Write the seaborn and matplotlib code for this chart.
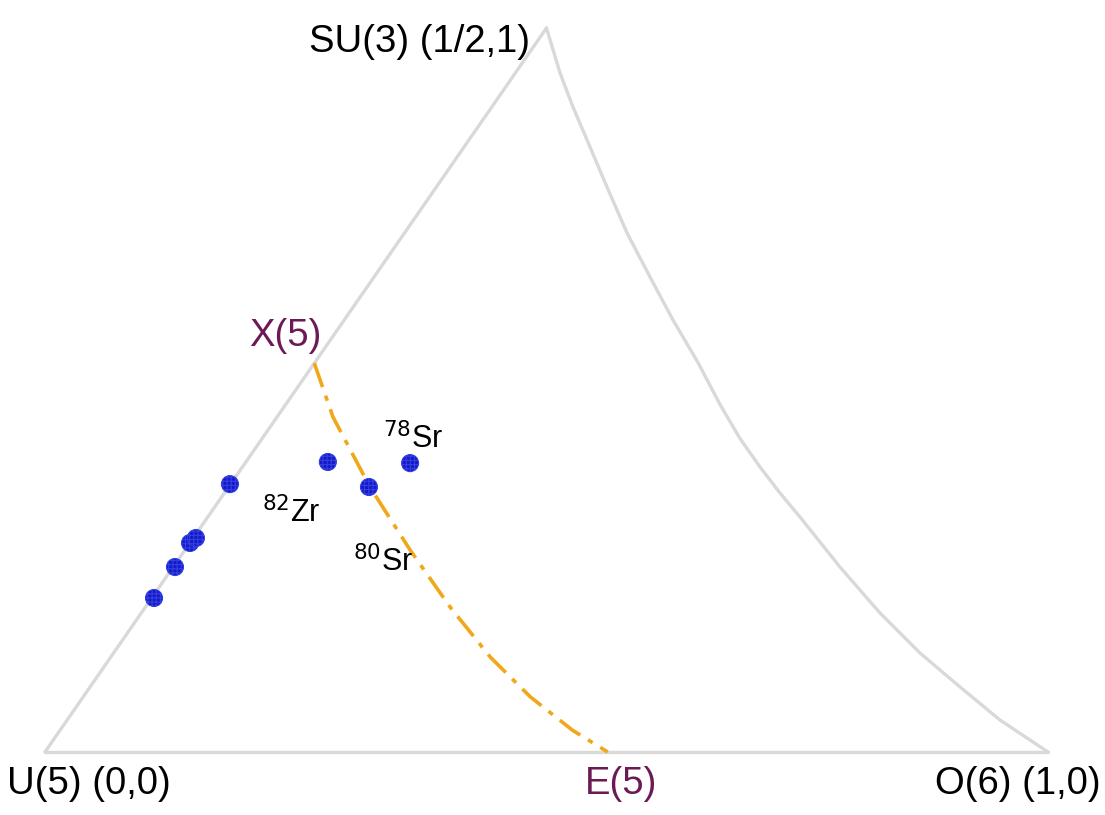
import matplotlib
matplotlib.use("Agg")
import matplotlib.pyplot as plt
import seaborn as sns
import pandas as pd
import numpy as np

sns.set_theme(style="white")
plt.rcParams['font.family'] = ['Liberation Sans', 'DejaVu Sans']

# Triangle boundary: left edge (straight), right edge (curved), bottom edge
left_x = [0.0, 0.5]
left_y = [0.0, 1.0]
right_x = [0.5, 0.5135, 0.5264, 0.5434, 0.5603, 0.5803, 0.6032, 0.6261, 0.6510,
           0.6730, 0.6929, 0.7129, 0.7328, 0.7527, 0.7926, 0.8325, 0.8724, 0.9123, 0.9521, 1.0]
right_y = [1.0, 0.9378, 0.8909, 0.8356, 0.7804, 0.7169, 0.6561, 0.5967, 0.5380,
           0.4800, 0.4330, 0.3936, 0.3577, 0.3246, 0.2555, 0.1920, 0.1367, 0.0898, 0.0442, 0.0]
bottom_x = [0.0, 1.0]
bottom_y = [0.0, 0.0]

# X(5)-E(5) curve
x5e5_x = [0.2685, 0.287, 0.324, 0.364, 0.404, 0.444, 0.484, 0.526, 0.561]
x5e5_y = [0.537, 0.463, 0.366, 0.279, 0.200, 0.131, 0.076, 0.030, 0.0]

# Nuclei positions
nuc_x = [0.1844, 0.282, 0.323, 0.364, 0.1446, 0.1505, 0.1296, 0.1087]
nuc_y = [0.370, 0.4006, 0.366, 0.399, 0.2887, 0.2956, 0.2555, 0.2127]

corner_labels = ["U(5) (0,0)", "SU(3) (1/2,1)", "O(6) (1,0)"]
crit_labels = ["X(5)", "E(5)"]
nuc_labels = [r"$^{78}$Sr", r"$^{82}$Zr", r"$^{80}$Sr"]

fig = plt.figure(figsize=(11.05, 8.15), dpi=100)
ax = fig.add_axes([45/1105, 63/815, 1003/1105, 724/815])
ax.set_xlim(0, 1)
ax.set_ylim(0, 1)
ax.axis('off')

edge_col = '#d9d9d9'
for xs, ys in [(left_x, left_y), (right_x, right_y), (bottom_x, bottom_y)]:
    sns.lineplot(x=xs, y=ys, sort=False, ax=ax, color=edge_col, linewidth=2.4,
                 estimator=None, clip_on=False)

sns.lineplot(x=x5e5_x, y=x5e5_y, sort=False, ax=ax, color='#f0a81a', linewidth=2.6,
             estimator=None, clip_on=False, dashes=False)
ax.lines[-1].set_dashes([7, 2.5, 1.5, 2.5])

plt.rcParams['hatch.color'] = '#5a7cff'
plt.rcParams['hatch.linewidth'] = 0.8
sns.scatterplot(x=nuc_x, y=nuc_y, ax=ax, s=150, color='#1818c8', edgecolor='#3040e0',
                linewidth=0.8, hatch='++++', zorder=5, clip_on=False)

purple = '#6b1a55'
fs = 27.5
ax.text(0.4836, 0.9807, corner_labels[1], ha='right', va='center', fontsize=fs, color='black')
ax.text(-0.038, -0.044, corner_labels[0], ha='left', va='center', fontsize=fs, color='black')
ax.text(1.052, -0.044, corner_labels[2], ha='right', va='center', fontsize=fs, color='black')
ax.text(0.24, 0.575, crit_labels[0], ha='center', va='center', fontsize=fs, color=purple)
ax.text(0.574, -0.044, crit_labels[1], ha='center', va='center', fontsize=fs, color=purple)

fs2 = 22
ax.text(0.367, 0.432, nuc_labels[0], ha='center', va='center', fontsize=fs2, color='black')
ax.text(0.246, 0.330, nuc_labels[1], ha='center', va='center', fontsize=fs2, color='black')
ax.text(0.337, 0.262, nuc_labels[2], ha='center', va='center', fontsize=fs2, color='black')

fig.savefig('out.png', dpi=100, facecolor='white')
